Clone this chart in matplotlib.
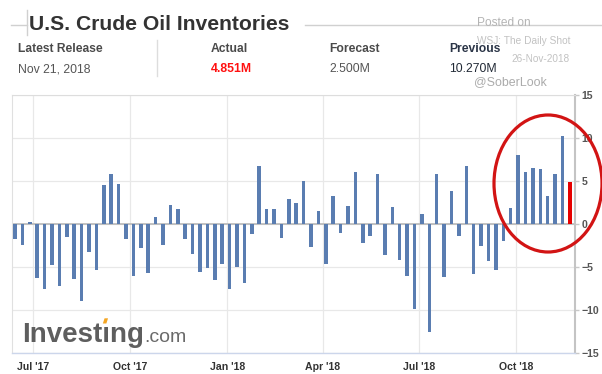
import matplotlib
matplotlib.use("Agg")
import matplotlib.pyplot as plt
import matplotlib.dates as mdates
from matplotlib.lines import Line2D
from matplotlib.patches import Ellipse, Polygon
import pandas as pd

plt.rcParams['font.family'] = ['Liberation Sans', 'DejaVu Sans']

# Weekly EIA crude inventory change (million barrels), release dates
release_dates = pd.date_range("2017-06-14", "2018-11-21", freq="7D")
changes = [
    -1.7, -2.4, 0.2, -6.3, -7.6, -4.8, -7.2, -1.5, -6.4, -9.0,
    -3.3, -5.3, 4.5, 5.8, 4.6, -1.8, -6.1, -2.8, -5.7, 0.8,
    -2.4, 2.2, 1.7, -1.8, -3.5, -5.6, -5.1, -6.5, -4.6, -7.5,
    -5.0, -6.9, -1.2, 6.7, 1.8, 1.7, -1.6, 2.9, 2.4, 5.0,
    -2.7, 1.5, -4.7, 3.3, -1.1, 2.1, 6.1, -2.2, -1.4, 5.8,
    -3.6, 2.0, -4.2, -6.0, -9.9, 1.2, -12.6, 5.8, -6.2, 3.8,
    -1.4, 6.7, -5.8, -2.5, -4.3, -5.3, -2.0, 1.85, 7.97, 5.99,
    6.49, 6.35, 3.22, 5.78, 10.27, 4.851,
]

header_labels = ["Latest Release", "Actual", "Forecast", "Previous"]
header_values = ["Nov 21, 2018", "4.851M", "2.500M", "10.270M"]
y_ticks = [-15, -10, -5, 0, 5, 10, 15]
month_ticks = pd.to_datetime(["2017-07-01", "2017-10-01", "2018-01-01",
                              "2018-04-01", "2018-07-01", "2018-10-01"])

W, H = 602, 374
fig = plt.figure(figsize=(W / 100, H / 100), dpi=100)


def fx(x):
    return x / W


def fy(y):
    return 1 - y / H


def ftext(x, y, s, **kw):
    return fig.text(fx(x), fy(y), s, va='baseline', ha='left', **kw)


# --- header ---
ftext(29, 30, "U.S. Crude Oil Inventories", fontsize=15.2, fontweight='bold', color='#333333')
for seg in [((11, 27), (25, 25)), ((305, 602), (25, 25)), ((27, 27), (10, 35))]:
    fig.add_artist(Line2D([fx(v) for v in seg[0]], [fy(v) for v in seg[1]],
                          color='#d0d0d0', lw=1))

header_x = [18, 210.5, 329, 449]
label_colors = ['#4a4a4a', '#4a4a4a', '#4a4a4a', '#2b3547']
value_styles = [
    dict(color='#555555'),
    dict(color='#ff1010', fontweight='bold'),
    dict(color='#555555'),
    dict(color='#222a36'),
]
for x, lab, val, lc, vs in zip(header_x, header_labels, header_values, label_colors, value_styles):
    ftext(x, 52, lab, fontsize=8.7, fontweight='bold', color=lc)
    ftext(x, 72, val, fontsize=8.8, **vs)
fig.add_artist(Line2D([fx(157), fx(157)], [fy(40), fy(76)], color='#dddddd', lw=1))

# watermark
ftext(477, 26.5, "Posted on", fontsize=8.6, color='#b4b4b4')
ftext(477, 44, "WSJ: The Daily Shot", fontsize=7.3, color='#c2c2c2')
ftext(511, 62, "26-Nov-2018", fontsize=7.2, color='#c2c2c2')
ftext(474, 85.5, "@SoberLook", fontsize=8.9, color='#ababab')

# --- chart ---
left, right, top, bottom = 11.6, 575.2, 95, 353
ax = fig.add_axes([fx(left), fy(bottom), (right - left) / W, (bottom - top) / H])

colors = ['#5a7db1'] * (len(changes) - 1) + ['#e60000']
ax.bar(release_dates, changes, width=3.3, color=colors, zorder=3)
ax.axhline(0, color='#b8b8b8', lw=1.2, zorder=2)

ax.set_xlim(pd.Timestamp("2017-06-10 18:00"), pd.Timestamp("2018-11-26"))
ax.set_ylim(-15, 15)
ax.set_yticks(y_ticks)
ax.set_xticks(month_ticks)
ax.xaxis.set_major_formatter(mdates.DateFormatter("%b '%y"))
ax.grid(True, color='#e8e8e8', lw=0.9, zorder=0)
ax.set_axisbelow(True)

ax.yaxis.tick_right()
ax.tick_params(axis='y', length=3, width=1, color='#c8c8c8', pad=1.5,
               labelsize=7.6, labelcolor='#555555')
ax.tick_params(axis='x', length=0, pad=6.5, labelsize=7.6, labelcolor='#333333')
for lab in ax.get_xticklabels() + ax.get_yticklabels():
    lab.set_fontweight('bold')

for side, col, lw in [('left', '#e0e0e0', 0.8), ('top', '#dddddd', 0.8),
                      ('bottom', '#ccd6eb', 1.0), ('right', '#c4c4c4', 1.5)]:
    ax.spines[side].set_color(col)
    ax.spines[side].set_linewidth(lw)

# Investing.com logo, orange dot on the second i
logo = ftext(21.7, 342, "Investıng", fontsize=20, fontweight='bold', color='#5e5e5e')
fig.canvas.draw()
renderer = fig.canvas.get_renderer()
prefix = ftext(21.7, 342, "Invest", fontsize=20, fontweight='bold', color='none')
full_ext = logo.get_window_extent(renderer)
pre_ext = prefix.get_window_extent(renderer)
prefix.remove()
c = pre_ext.x1 + 3.5
fig.add_artist(Polygon([(fx(c - 2.6), fy(323.5)), (fx(c + 0.9), fy(323.5)),
                        (fx(c + 2.6), fy(318.3)), (fx(c - 0.9), fy(318.3))],
                       closed=True, facecolor='#f5a623', edgecolor='none'))
fig.text(full_ext.x1 / W + 0.001, fy(342), ".com", fontsize=14, color='#6a6a6a',
         va='baseline', ha='left')

# highlight ring around the latest readings
fig.add_artist(Ellipse((fx(548), fy(183.5)), 108 / W, 137 / H,
                       transform=fig.transFigure, fill=False,
                       edgecolor='#d21414', lw=2.3))

fig.savefig("out.png", dpi=100)
